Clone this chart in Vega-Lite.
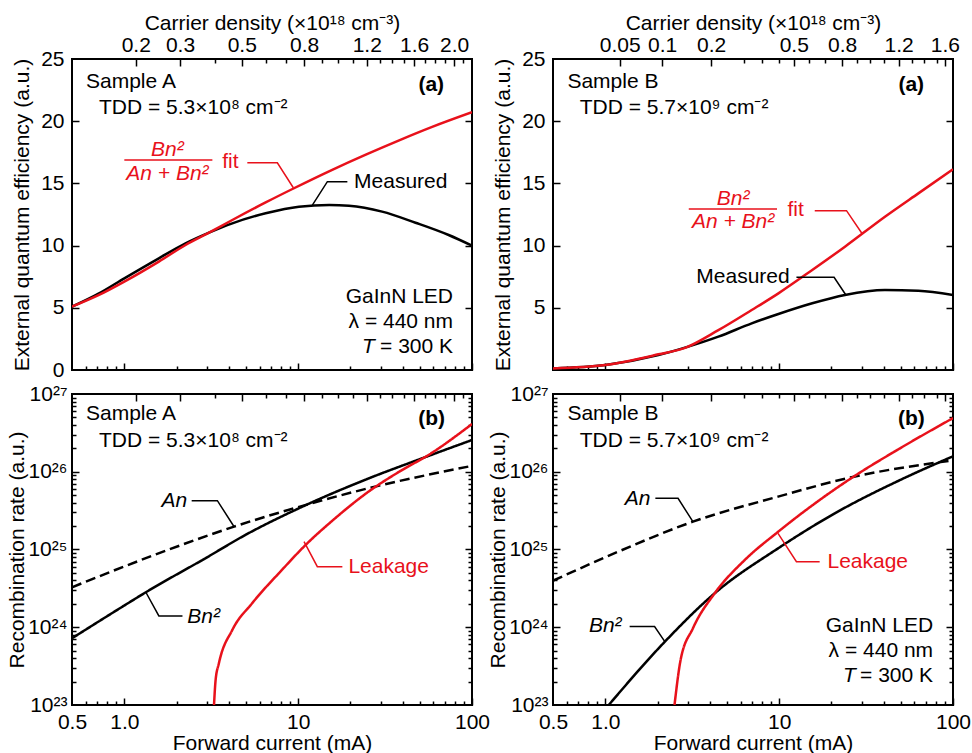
{
  "$schema": "https://vega.github.io/schema/vega-lite/v6.json",
  "padding": {"left": 5, "top": 11, "right": 5, "bottom": 0},
  "config": {
    "font": "Liberation Sans",
    "view": {"stroke": "#000", "strokeWidth": 2},
    "axis": {"grid": false, "domain": false, "tickColor": "#000", "tickWidth": 1.5, "labelFontSize": 21, "titleFontSize": 21, "labelColor": "#000", "titleColor": "#000", "titleFontWeight": "normal", "labelOverlap": false, "labelFlush": false, "labelBound": false, "labelFont": "Liberation Sans", "titleFont": "Liberation Sans"},
    "text": {"fontSize": 21, "font": "Liberation Sans", "baseline": "alphabetic"}
  },
  "datasets": {
    "eqeA": [
      {"I":0.5,"v":5.09,"s":"Measured"},{"I":0.715,"v":6.16,"s":"Measured"},{"I":1.0,"v":7.37,"s":"Measured"},{"I":1.58,"v":8.98,"s":"Measured"},{"I":2.25,"v":10.18,"s":"Measured"},{"I":3.07,"v":11.04,"s":"Measured"},{"I":4.18,"v":11.79,"s":"Measured"},{"I":6.5,"v":12.6,"s":"Measured"},{"I":10.1,"v":13.13,"s":"Measured"},{"I":15.1,"v":13.26,"s":"Measured"},{"I":19.6,"v":13.2,"s":"Measured"},{"I":30.4,"v":12.73,"s":"Measured"},{"I":47.3,"v":11.84,"s":"Measured"},{"I":73.4,"v":10.85,"s":"Measured"},{"I":100,"v":9.99,"s":"Measured"},
      {"I":0.5,"v":5.09,"s":"Fit"},{"I":0.715,"v":6.03,"s":"Fit"},{"I":1.0,"v":7.1,"s":"Fit"},{"I":1.58,"v":8.71,"s":"Fit"},{"I":2.25,"v":10.05,"s":"Fit"},{"I":3.07,"v":11.04,"s":"Fit"},{"I":4.18,"v":12.06,"s":"Fit"},{"I":6.5,"v":13.47,"s":"Fit"},{"I":9.27,"v":14.55,"s":"Fit"},{"I":15.7,"v":16.09,"s":"Fit"},{"I":24.5,"v":17.31,"s":"Fit"},{"I":38.1,"v":18.46,"s":"Fit"},{"I":59.0,"v":19.54,"s":"Fit"},{"I":100,"v":20.72,"s":"Fit"}
    ],
    "eqeB": [
      {"I":0.5,"v":0.13,"s":"Measured"},{"I":1.0,"v":0.4,"s":"Measured"},{"I":2.02,"v":1.2,"s":"Measured"},{"I":3.0,"v":1.88,"s":"Measured"},{"I":4.47,"v":2.68,"s":"Measured"},{"I":6.95,"v":3.75,"s":"Measured"},{"I":9.9,"v":4.5,"s":"Measured"},{"I":15.5,"v":5.36,"s":"Measured"},{"I":23.9,"v":6.03,"s":"Measured"},{"I":40.6,"v":6.43,"s":"Measured"},{"I":63.2,"v":6.38,"s":"Measured"},{"I":100,"v":6.03,"s":"Measured"},
      {"I":0.5,"v":0.13,"s":"Fit"},{"I":1.0,"v":0.4,"s":"Fit"},{"I":2.02,"v":1.26,"s":"Fit"},{"I":2.9,"v":1.8,"s":"Fit"},{"I":4.47,"v":3.2,"s":"Fit"},{"I":6.95,"v":4.82,"s":"Fit"},{"I":9.9,"v":6.16,"s":"Fit"},{"I":15.5,"v":8.04,"s":"Fit"},{"I":23.9,"v":9.91,"s":"Fit"},{"I":40.6,"v":12.32,"s":"Fit"},{"I":63.2,"v":14.2,"s":"Fit"},{"I":100,"v":16.13,"s":"Fit"}
    ],
    "recA": [
      {"I":0.5,"v":3.27e24,"s":"An"},{"I":1.45,"v":8.32e24,"s":"An"},{"I":4.28,"v":1.97e25,"s":"An"},{"I":10.35,"v":3.59e25,"s":"An"},{"I":25.6,"v":6.17e25,"s":"An"},{"I":100,"v":1.19e26,"s":"An"},
      {"I":0.5,"v":7.21e23,"s":"Bn2"},{"I":1.0,"v":1.905e24,"s":"Bn2"},{"I":1.33,"v":2.82e24,"s":"Bn2"},{"I":2.94,"v":7.76e24,"s":"Bn2"},{"I":5.0,"v":1.55e25,"s":"Bn2"},{"I":10.1,"v":3.39e25,"s":"Bn2"},{"I":24.5,"v":7.94e25,"s":"Bn2"},{"I":54.2,"v":1.55e26,"s":"Bn2"},{"I":100,"v":2.56e26,"s":"Bn2"},
      {"I":3.28,"v":1.0e23,"s":"Leakage"},{"I":3.35,"v":2.09e23,"s":"Leakage"},{"I":3.5,"v":3.44e23,"s":"Leakage"},{"I":4.18,"v":9.23e23,"s":"Leakage"},{"I":5.43,"v":2.03e24,"s":"Leakage"},{"I":8.06,"v":5.45e24,"s":"Leakage"},{"I":11.06,"v":1.15e25,"s":"Leakage"},{"I":15.7,"v":2.34e25,"s":"Leakage"},{"I":25.6,"v":5.62e25,"s":"Leakage"},{"I":38.1,"v":1.0e26,"s":"Leakage"},{"I":56.6,"v":1.66e26,"s":"Leakage"},{"I":100,"v":4.11e26,"s":"Leakage"}
    ],
    "recB": [
      {"I":0.5,"v":3.97e24,"s":"An"},{"I":1.18,"v":9.33e24,"s":"An"},{"I":3.19,"v":2.28e25,"s":"An"},{"I":9.86,"v":4.79e25,"s":"An"},{"I":26.1,"v":8.51e25,"s":"An"},{"I":100,"v":1.4e26,"s":"An"},
      {"I":1.046,"v":1.0e23,"s":"Bn2"},{"I":2.2,"v":6.52e23,"s":"Bn2"},{"I":4.26,"v":2.74e24,"s":"Bn2"},{"I":9.86,"v":1.035e25,"s":"Bn2"},{"I":20.9,"v":2.92e25,"s":"Bn2"},{"I":50.3,"v":7.94e25,"s":"Bn2"},{"I":100,"v":1.58e26,"s":"Bn2"},
      {"I":2.5,"v":1.0e23,"s":"Leakage"},{"I":2.71,"v":3.79e23,"s":"Leakage"},{"I":3.19,"v":9.68e23,"s":"Leakage"},{"I":4.26,"v":2.74e24,"s":"Leakage"},{"I":6.34,"v":7.33e24,"s":"Leakage"},{"I":9.86,"v":1.69e25,"s":"Leakage"},{"I":16.7,"v":4.17e25,"s":"Leakage"},{"I":26.1,"v":8.32e25,"s":"Leakage"},{"I":50.3,"v":2.04e26,"s":"Leakage"},{"I":100,"v":4.9e26,"s":"Leakage"}
    ]
  },
  "columns": 2,
  "spacing": {"row": 24, "column": 81},
  "bounds": "flush",
  "concat": [
        {
          "width": 400, "height": 311,
          "resolve": {"axis": {"x": "independent", "y": "independent"}},
          "layer": [
            {
              "data": {"name": "eqeA"},
              "mark": {"type": "line", "strokeWidth": 2.5, "clip": true, "interpolate": "monotone"},
              "encoding": {
                "x": {"field": "I", "type": "quantitative", "scale": {"type": "log", "domain": [0.5, 100], "nice": false}, "axis": {"orient": "bottom", "values": [0.6,0.7,0.8,0.9,2,3,4,5,6,7,8,9,20,30,40,50,60,70,80,90], "tickSize": -4, "labels": false, "title": null}},
                "y": {"field": "v", "type": "quantitative", "scale": {"domain": [0, 25], "nice": false, "zero": false}, "axis": {"orient": "left", "values": [0,5,10,15,20,25], "ticks": false, "labelPadding": 8, "title": "External quantum efficiency (a.u.)", "titlePadding": 8}},
                "color": {"field": "s", "type": "nominal", "scale": {"domain": ["Measured", "Fit", "An", "Bn2", "Leakage"], "range": ["#000000", "#e8111b", "#000000", "#000000", "#e8111b"]}, "legend": null}
              }
            },
            {
              "data": {"name": "eqeA"},
              "mark": {"type": "point", "opacity": 0},
              "encoding": {
                "x": {"field": "I", "type": "quantitative", "scale": {"type": "log", "domain": [0.5, 100], "nice": false}, "axis": {"orient": "bottom", "values": [1,10,100], "tickSize": -7, "labels": false, "title": null}},
                "y": {"field": "v", "type": "quantitative", "scale": {"domain": [0, 25], "nice": false, "zero": false}, "axis": {"orient": "left", "values": [5,10,15,20], "tickSize": -7, "labels": false, "title": null}}
              }
            },
            {
              "data": {"name": "eqeA"},
              "mark": {"type": "point", "opacity": 0},
              "encoding": {
                "x": {"field": "I", "type": "quantitative", "scale": {"type": "log", "domain": [0.5, 100], "nice": false}, "axis": {"orient": "top", "values": [1.163,2.091,4.735,10.81,24.8,46.42,78.9], "ticks": false, "labelPadding": 4, "labelExpr": "datum.value < 1.5 ? '0.2' : datum.value < 3 ? '0.3' : datum.value < 7 ? '0.5' : datum.value < 15 ? '0.8' : datum.value < 35 ? '1.2' : datum.value < 60 ? '1.6' : '2.0'", "title": "Carrier density (×10¹⁸ cm⁻³)", "titlePadding": 1}},
                "y": {"field": "v", "type": "quantitative", "scale": {"domain": [0, 25], "nice": false, "zero": false}, "axis": {"orient": "right", "values": [5,10,15,20], "tickSize": -7, "labels": false, "title": null}}
              }
            },
            {
              "data": {"name": "eqeA"},
              "mark": {"type": "point", "opacity": 0},
              "encoding": {
                "x": {"field": "I", "type": "quantitative", "scale": {"type": "log", "domain": [0.5, 100], "nice": false}, "axis": {"orient": "top", "values": [1.163,2.091,4.735,10.81,24.8,46.42,78.9], "tickSize": -7, "labels": false, "title": null}},
                "y": {"field": "v", "type": "quantitative", "axis": null}
              }
            },
            {
              "data": {"name": "eqeA"},
              "mark": {"type": "point", "opacity": 0},
              "encoding": {
                "x": {"field": "I", "type": "quantitative", "scale": {"type": "log", "domain": [0.5, 100], "nice": false}, "axis": {"orient": "top", "values": [3.31,6.52,8.55,13.76,17.06,20.74,29.5,34.7,40.4,53.6,61.4,69.9,89.1], "tickSize": -4, "labels": false, "title": null}},
                "y": {"field": "v", "type": "quantitative", "axis": null}
              }
            },
            {
              "data": {"values": [{"g":"m","I":19.19,"v":15.14},{"g":"m","I":14.72,"v":15.14},{"g":"m","I":12.07,"v":13.26}]},
              "mark": {"type": "line", "strokeWidth": 1.5, "color": "#000000"},
              "encoding": {"x": {"field": "I", "type": "quantitative", "axis": null}, "y": {"field": "v", "type": "quantitative", "axis": null}, "detail": {"field": "g"}}
            },
            {
              "data": {"values": [{"g":"f","I":5.10,"v":16.66},{"g":"f","I":7.59,"v":16.66},{"g":"f","I":9.38,"v":14.65},{"g":"bar","I":1.0,"v":16.88},{"g":"bar","I":3.21,"v":16.88}]},
              "mark": {"type": "line", "strokeWidth": 1.5, "color": "#e8111b"},
              "encoding": {"x": {"field": "I", "type": "quantitative", "axis": null}, "y": {"field": "v", "type": "quantitative", "axis": null}, "detail": {"field": "g"}}
            },
            {
              "data": {"values": [{"t":"Sample A","I":0.602,"v":22.67},{"t":"TDD = 5.3×10⁸  cm⁻²","I":0.715,"v":20.58},{"t":"Measured","I":20.97,"v":14.6}]},
              "mark": {"type": "text", "align": "left"},
              "encoding": {"x": {"field": "I", "type": "quantitative", "axis": null}, "y": {"field": "v", "type": "quantitative", "axis": null}, "text": {"field": "t"}}
            },
            {
              "data": {"values": [{"t":"GaInN LED","I":77.8,"v":5.36},{"t":"λ = 440 nm","I":77.8,"v":3.35},{"t":"= 300 K","I":77.8,"v":1.34}]},
              "mark": {"type": "text", "align": "right"},
              "encoding": {"x": {"field": "I", "type": "quantitative", "axis": null}, "y": {"field": "v", "type": "quantitative", "axis": null}, "text": {"field": "t"}}
            },
            {
              "data": {"values": [{"t":"T","I":23.3,"v":1.34}]},
              "mark": {"type": "text", "align": "left", "fontStyle": "italic"},
              "encoding": {"x": {"field": "I", "type": "quantitative", "axis": null}, "y": {"field": "v", "type": "quantitative", "axis": null}, "text": {"field": "t"}}
            },
            {
              "data": {"values": [{"t":"(a)","I":69.1,"v":22.45}]},
              "mark": {"type": "text", "align": "right", "fontWeight": "bold"},
              "encoding": {"x": {"field": "I", "type": "quantitative", "axis": null}, "y": {"field": "v", "type": "quantitative", "axis": null}, "text": {"field": "t"}}
            },
            {
              "data": {"values": [{"t":"Bn²","I":1.77,"v":17.2},{"t":"An + Bn²","I":1.77,"v":15.27}]},
              "mark": {"type": "text", "align": "center", "fontStyle": "italic", "color": "#e8111b"},
              "encoding": {"x": {"field": "I", "type": "quantitative", "axis": null}, "y": {"field": "v", "type": "quantitative", "axis": null}, "text": {"field": "t"}}
            },
            {
              "data": {"values": [{"t":"fit","I":3.66,"v":16.27}]},
              "mark": {"type": "text", "align": "left", "color": "#e8111b"},
              "encoding": {"x": {"field": "I", "type": "quantitative", "axis": null}, "y": {"field": "v", "type": "quantitative", "axis": null}, "text": {"field": "t"}}
            }
          ]
        },
        {
          "width": 400, "height": 311,
          "resolve": {"axis": {"x": "independent", "y": "independent"}},
          "layer": [
            {
              "data": {"name": "eqeB"},
              "mark": {"type": "line", "strokeWidth": 2.5, "clip": true, "interpolate": "monotone"},
              "encoding": {
                "x": {"field": "I", "type": "quantitative", "scale": {"type": "log", "domain": [0.5, 100], "nice": false}, "axis": {"orient": "bottom", "values": [0.6,0.7,0.8,0.9,2,3,4,5,6,7,8,9,20,30,40,50,60,70,80,90], "tickSize": -4, "labels": false, "title": null}},
                "y": {"field": "v", "type": "quantitative", "scale": {"domain": [0, 25], "nice": false, "zero": false}, "axis": {"orient": "left", "values": [5,10,15,20,25], "ticks": false, "labelPadding": 8, "title": "External quantum efficiency (a.u.)", "titlePadding": 8}},
                "color": {"field": "s", "type": "nominal", "scale": {"domain": ["Measured", "Fit", "An", "Bn2", "Leakage"], "range": ["#000000", "#e8111b", "#000000", "#000000", "#e8111b"]}, "legend": null}
              }
            },
            {
              "data": {"name": "eqeB"},
              "mark": {"type": "point", "opacity": 0},
              "encoding": {
                "x": {"field": "I", "type": "quantitative", "scale": {"type": "log", "domain": [0.5, 100], "nice": false}, "axis": {"orient": "bottom", "values": [1,10,100], "tickSize": -7, "labels": false, "title": null}},
                "y": {"field": "v", "type": "quantitative", "scale": {"domain": [0, 25], "nice": false, "zero": false}, "axis": {"orient": "left", "values": [5,10,15,20], "tickSize": -7, "labels": false, "title": null}}
              }
            },
            {
              "data": {"name": "eqeB"},
              "mark": {"type": "point", "opacity": 0},
              "encoding": {
                "x": {"field": "I", "type": "quantitative", "scale": {"type": "log", "domain": [0.5, 100], "nice": false}, "axis": {"orient": "top", "values": [1.21,2.12,4.06,12.13,23.0,48.7,89.7], "ticks": false, "labelPadding": 4, "labelExpr": "datum.value < 1.6 ? '0.05' : datum.value < 3 ? '0.1' : datum.value < 7 ? '0.2' : datum.value < 17 ? '0.5' : datum.value < 35 ? '0.8' : datum.value < 70 ? '1.2' : '1.6'", "title": "Carrier density (×10¹⁸ cm⁻³)", "titlePadding": 1}},
                "y": {"field": "v", "type": "quantitative", "scale": {"domain": [0, 25], "nice": false, "zero": false}, "axis": {"orient": "right", "values": [5,10,15,20], "tickSize": -7, "labels": false, "title": null}}
              }
            },
            {
              "data": {"name": "eqeB"},
              "mark": {"type": "point", "opacity": 0},
              "encoding": {
                "x": {"field": "I", "type": "quantitative", "scale": {"type": "log", "domain": [0.5, 100], "nice": false}, "axis": {"orient": "top", "values": [1.21,2.12,4.06,12.13,23.0,48.7,89.7], "tickSize": -7, "labels": false, "title": null}},
                "y": {"field": "v", "type": "quantitative", "axis": null}
              }
            },
            {
              "data": {"name": "eqeB"},
              "mark": {"type": "point", "opacity": 0},
              "encoding": {
                "x": {"field": "I", "type": "quantitative", "scale": {"type": "log", "domain": [0.5, 100], "nice": false}, "axis": {"orient": "top", "values": [6.26,7.97,9.95,14.8,18.45,28.05,33.5,40.0,58.2,67.9,80.9], "tickSize": -4, "labels": false, "title": null}},
                "y": {"field": "v", "type": "quantitative", "axis": null}
              }
            },
            {
              "data": {"values": [{"g":"m","I":12.57,"v":7.45},{"g":"m","I":20.7,"v":7.45},{"g":"m","I":24.2,"v":6.03}]},
              "mark": {"type": "line", "strokeWidth": 1.5, "color": "#000000"},
              "encoding": {"x": {"field": "I", "type": "quantitative", "axis": null}, "y": {"field": "v", "type": "quantitative", "axis": null}, "detail": {"field": "g"}}
            },
            {
              "data": {"values": [{"g":"f","I":16.02,"v":12.81},{"g":"f","I":24.4,"v":12.81},{"g":"f","I":30.1,"v":10.93},{"g":"bar","I":3.02,"v":12.94},{"g":"bar","I":9.72,"v":12.94}]},
              "mark": {"type": "line", "strokeWidth": 1.5, "color": "#e8111b"},
              "encoding": {"x": {"field": "I", "type": "quantitative", "axis": null}, "y": {"field": "v", "type": "quantitative", "axis": null}, "detail": {"field": "g"}}
            },
            {
              "data": {"values": [{"t":"Sample B","I":0.605,"v":22.64},{"t":"TDD = 5.7×10⁹ cm⁻²","I":0.712,"v":20.58}]},
              "mark": {"type": "text", "align": "left"},
              "encoding": {"x": {"field": "I", "type": "quantitative", "axis": null}, "y": {"field": "v", "type": "quantitative", "axis": null}, "text": {"field": "t"}}
            },
            {
              "data": {"values": [{"t":"Measured","I":11.5,"v":6.97}]},
              "mark": {"type": "text", "align": "right"},
              "encoding": {"x": {"field": "I", "type": "quantitative", "axis": null}, "y": {"field": "v", "type": "quantitative", "axis": null}, "text": {"field": "t"}}
            },
            {
              "data": {"values": [{"t":"(a)","I":68.2,"v":22.45}]},
              "mark": {"type": "text", "align": "right", "fontWeight": "bold"},
              "encoding": {"x": {"field": "I", "type": "quantitative", "axis": null}, "y": {"field": "v", "type": "quantitative", "axis": null}, "text": {"field": "t"}}
            },
            {
              "data": {"values": [{"t":"Bn²","I":5.43,"v":13.26},{"t":"An + Bn²","I":5.43,"v":11.39}]},
              "mark": {"type": "text", "align": "center", "fontStyle": "italic", "color": "#e8111b"},
              "encoding": {"x": {"field": "I", "type": "quantitative", "axis": null}, "y": {"field": "v", "type": "quantitative", "axis": null}, "text": {"field": "t"}}
            },
            {
              "data": {"values": [{"t":"fit","I":11.16,"v":12.38}]},
              "mark": {"type": "text", "align": "left", "color": "#e8111b"},
              "encoding": {"x": {"field": "I", "type": "quantitative", "axis": null}, "y": {"field": "v", "type": "quantitative", "axis": null}, "text": {"field": "t"}}
            }
          ]
        },
        {
          "width": 400, "height": 311,
          "resolve": {"axis": {"x": "independent", "y": "independent"}},
          "layer": [
            {
              "data": {"name": "recA"},
              "mark": {"type": "line", "strokeWidth": 2.5, "clip": true, "interpolate": "monotone"},
              "encoding": {
                "x": {"field": "I", "type": "quantitative", "scale": {"type": "log", "domain": [0.5, 100], "nice": false}, "axis": {"orient": "bottom", "values": [0.5,1,10,100], "ticks": false, "labelPadding": 6, "labelExpr": "datum.value < 0.75 ? '0.5' : datum.value < 5 ? '1.0' : datum.value < 50 ? '10' : '100'", "title": "Forward current (mA)", "titlePadding": 0}},
                "y": {"field": "v", "type": "quantitative", "scale": {"type": "log", "domain": [1e23, 1e27], "nice": false}, "axis": {"orient": "left", "values": [1e23,1e24,1e25,1e26,1e27], "ticks": false, "labelPadding": 5, "labelExpr": "'10' + (datum.value < 5e23 ? '²³' : datum.value < 5e24 ? '²⁴' : datum.value < 5e25 ? '²⁵' : datum.value < 5e26 ? '²⁶' : '²⁷')", "title": "Recombination rate (a.u.)", "titlePadding": 0}},
                "color": {"field": "s", "type": "nominal", "scale": {"domain": ["Measured", "Fit", "An", "Bn2", "Leakage"], "range": ["#000000", "#e8111b", "#000000", "#000000", "#e8111b"]}, "legend": null},
                "strokeDash": {"field": "s", "type": "nominal", "scale": {"domain": ["An", "Bn2", "Leakage"], "range": [[10,5],[1,0],[1,0]]}, "legend": null}
              }
            },
            {
              "data": {"name": "recA"},
              "mark": {"type": "point", "opacity": 0},
              "encoding": {
                "x": {"field": "I", "type": "quantitative", "scale": {"type": "log", "domain": [0.5, 100], "nice": false}, "axis": {"orient": "bottom", "values": [1,10,100], "tickSize": -7, "labels": false, "title": null}},
                "y": {"field": "v", "type": "quantitative", "scale": {"type": "log", "domain": [1e23, 1e27], "nice": false}, "axis": {"orient": "left", "values": [1e24,1e25,1e26], "tickSize": -7, "labels": false, "title": null}}
              }
            },
            {
              "data": {"name": "recA"},
              "mark": {"type": "point", "opacity": 0},
              "encoding": {
                "x": {"field": "I", "type": "quantitative", "scale": {"type": "log", "domain": [0.5, 100], "nice": false}, "axis": {"orient": "bottom", "values": [0.6,0.7,0.8,0.9,2,3,4,5,6,7,8,9,20,30,40,50,60,70,80,90], "tickSize": -4, "labels": false, "title": null}},
                "y": {"field": "v", "type": "quantitative", "scale": {"type": "log", "domain": [1e23, 1e27], "nice": false}, "axis": {"orient": "right", "values": [1e24,1e25,1e26], "tickSize": -7, "labels": false, "title": null}}
              }
            },
            {
              "data": {"name": "recA"},
              "mark": {"type": "point", "opacity": 0},
              "encoding": {
                "x": {"field": "I", "type": "quantitative", "scale": {"type": "log", "domain": [0.5, 100], "nice": false}, "axis": {"orient": "top", "values": [1.163,2.091,4.735,10.81,24.8,46.42,78.9], "tickSize": -7, "labels": false, "title": null}},
                "y": {"field": "v", "type": "quantitative", "scale": {"type": "log", "domain": [1e23, 1e27], "nice": false}, "axis": {"orient": "left", "values": [2e23,3e23,4e23,5e23,6e23,7e23,8e23,9e23,2e24,3e24,4e24,5e24,6e24,7e24,8e24,9e24,2e25,3e25,4e25,5e25,6e25,7e25,8e25,9e25,2e26,3e26,4e26,5e26,6e26,7e26,8e26,9e26], "tickSize": -4, "labels": false, "title": null}}
              }
            },
            {
              "data": {"name": "recA"},
              "mark": {"type": "point", "opacity": 0},
              "encoding": {
                "x": {"field": "I", "type": "quantitative", "scale": {"type": "log", "domain": [0.5, 100], "nice": false}, "axis": {"orient": "top", "values": [3.31,6.52,8.55,13.76,17.06,20.74,29.5,34.7,40.4,53.6,61.4,69.9,89.1], "tickSize": -4, "labels": false, "title": null}},
                "y": {"field": "v", "type": "quantitative", "scale": {"type": "log", "domain": [1e23, 1e27], "nice": false}, "axis": {"orient": "right", "values": [2e23,3e23,4e23,5e23,6e23,7e23,8e23,9e23,2e24,3e24,4e24,5e24,6e24,7e24,8e24,9e24,2e25,3e25,4e25,5e25,6e25,7e25,8e25,9e25,2e26,3e26,4e26,5e26,6e26,7e26,8e26,9e26], "tickSize": -4, "labels": false, "title": null}}
              }
            },
            {
              "data": {"values": [{"g":"an","I":2.44,"v":4.25e25},{"g":"an","I":3.43,"v":4.25e25},{"g":"an","I":4.28,"v":1.96e25},{"g":"bn","I":2.16,"v":1.40e24},{"g":"bn","I":1.58,"v":1.40e24},{"g":"bn","I":1.33,"v":2.82e24}]},
              "mark": {"type": "line", "strokeWidth": 1.5, "color": "#000000"},
              "encoding": {"x": {"field": "I", "type": "quantitative", "axis": null}, "y": {"field": "v", "type": "quantitative", "axis": null}, "detail": {"field": "g"}}
            },
            {
              "data": {"values": [{"g":"l","I":17.96,"v":6.01e24},{"g":"l","I":12.89,"v":6.01e24},{"g":"l","I":10.81,"v":1.26e25}]},
              "mark": {"type": "line", "strokeWidth": 1.5, "color": "#e8111b"},
              "encoding": {"x": {"field": "I", "type": "quantitative", "axis": null}, "y": {"field": "v", "type": "quantitative", "axis": null}, "detail": {"field": "g"}}
            },
            {
              "data": {"values": [{"t":"Sample A","I":0.602,"v":4.63e26},{"t":"TDD = 5.3×10⁸ cm⁻²","I":0.715,"v":2.06e26}]},
              "mark": {"type": "text", "align": "left"},
              "encoding": {"x": {"field": "I", "type": "quantitative", "axis": null}, "y": {"field": "v", "type": "quantitative", "axis": null}, "text": {"field": "t"}}
            },
            {
              "data": {"values": [{"t":"Bn²","I":2.30,"v":1.12e24}]},
              "mark": {"type": "text", "align": "left", "fontStyle": "italic"},
              "encoding": {"x": {"field": "I", "type": "quantitative", "axis": null}, "y": {"field": "v", "type": "quantitative", "axis": null}, "text": {"field": "t"}}
            },
            {
              "data": {"values": [{"t":"An","I":2.30,"v":3.55e25}]},
              "mark": {"type": "text", "align": "right", "fontStyle": "italic"},
              "encoding": {"x": {"field": "I", "type": "quantitative", "axis": null}, "y": {"field": "v", "type": "quantitative", "axis": null}, "text": {"field": "t"}}
            },
            {
              "data": {"values": [{"t":"(b)","I":70.0,"v":3.98e26}]},
              "mark": {"type": "text", "align": "right", "fontWeight": "bold"},
              "encoding": {"x": {"field": "I", "type": "quantitative", "axis": null}, "y": {"field": "v", "type": "quantitative", "axis": null}, "text": {"field": "t"}}
            },
            {
              "data": {"values": [{"t":"Leakage","I":19.45,"v":4.94e24}]},
              "mark": {"type": "text", "align": "left", "color": "#e8111b"},
              "encoding": {"x": {"field": "I", "type": "quantitative", "axis": null}, "y": {"field": "v", "type": "quantitative", "axis": null}, "text": {"field": "t"}}
            }
          ]
        },
        {
          "width": 400, "height": 311,
          "resolve": {"axis": {"x": "independent", "y": "independent"}},
          "layer": [
            {
              "data": {"name": "recB"},
              "mark": {"type": "line", "strokeWidth": 2.5, "clip": true, "interpolate": "monotone"},
              "encoding": {
                "x": {"field": "I", "type": "quantitative", "scale": {"type": "log", "domain": [0.5, 100], "nice": false}, "axis": {"orient": "bottom", "values": [0.5,1,10,100], "ticks": false, "labelPadding": 6, "labelExpr": "datum.value < 0.75 ? '0.5' : datum.value < 5 ? '1.0' : datum.value < 50 ? '10' : '100'", "title": "Forward current (mA)", "titlePadding": 0}},
                "y": {"field": "v", "type": "quantitative", "scale": {"type": "log", "domain": [1e23, 1e27], "nice": false}, "axis": {"orient": "left", "values": [1e23,1e24,1e25,1e26,1e27], "ticks": false, "labelPadding": 5, "labelExpr": "'10' + (datum.value < 5e23 ? '²³' : datum.value < 5e24 ? '²⁴' : datum.value < 5e25 ? '²⁵' : datum.value < 5e26 ? '²⁶' : '²⁷')", "title": "Recombination rate (a.u.)", "titlePadding": 0}},
                "color": {"field": "s", "type": "nominal", "scale": {"domain": ["Measured", "Fit", "An", "Bn2", "Leakage"], "range": ["#000000", "#e8111b", "#000000", "#000000", "#e8111b"]}, "legend": null},
                "strokeDash": {"field": "s", "type": "nominal", "scale": {"domain": ["An", "Bn2", "Leakage"], "range": [[10,5],[1,0],[1,0]]}, "legend": null}
              }
            },
            {
              "data": {"name": "recB"},
              "mark": {"type": "point", "opacity": 0},
              "encoding": {
                "x": {"field": "I", "type": "quantitative", "scale": {"type": "log", "domain": [0.5, 100], "nice": false}, "axis": {"orient": "bottom", "values": [1,10,100], "tickSize": -7, "labels": false, "title": null}},
                "y": {"field": "v", "type": "quantitative", "scale": {"type": "log", "domain": [1e23, 1e27], "nice": false}, "axis": {"orient": "left", "values": [1e24,1e25,1e26], "tickSize": -7, "labels": false, "title": null}}
              }
            },
            {
              "data": {"name": "recB"},
              "mark": {"type": "point", "opacity": 0},
              "encoding": {
                "x": {"field": "I", "type": "quantitative", "scale": {"type": "log", "domain": [0.5, 100], "nice": false}, "axis": {"orient": "bottom", "values": [0.6,0.7,0.8,0.9,2,3,4,5,6,7,8,9,20,30,40,50,60,70,80,90], "tickSize": -4, "labels": false, "title": null}},
                "y": {"field": "v", "type": "quantitative", "scale": {"type": "log", "domain": [1e23, 1e27], "nice": false}, "axis": {"orient": "right", "values": [1e24,1e25,1e26], "tickSize": -7, "labels": false, "title": null}}
              }
            },
            {
              "data": {"name": "recB"},
              "mark": {"type": "point", "opacity": 0},
              "encoding": {
                "x": {"field": "I", "type": "quantitative", "scale": {"type": "log", "domain": [0.5, 100], "nice": false}, "axis": {"orient": "top", "values": [1.21,2.12,4.06,12.13,23.0,48.7,89.7], "tickSize": -7, "labels": false, "title": null}},
                "y": {"field": "v", "type": "quantitative", "scale": {"type": "log", "domain": [1e23, 1e27], "nice": false}, "axis": {"orient": "left", "values": [2e23,3e23,4e23,5e23,6e23,7e23,8e23,9e23,2e24,3e24,4e24,5e24,6e24,7e24,8e24,9e24,2e25,3e25,4e25,5e25,6e25,7e25,8e25,9e25,2e26,3e26,4e26,5e26,6e26,7e26,8e26,9e26], "tickSize": -4, "labels": false, "title": null}}
              }
            },
            {
              "data": {"name": "recB"},
              "mark": {"type": "point", "opacity": 0},
              "encoding": {
                "x": {"field": "I", "type": "quantitative", "scale": {"type": "log", "domain": [0.5, 100], "nice": false}, "axis": {"orient": "top", "values": [6.26,7.97,9.95,14.8,18.45,28.05,33.5,40.0,58.2,67.9,80.9], "tickSize": -4, "labels": false, "title": null}},
                "y": {"field": "v", "type": "quantitative", "scale": {"type": "log", "domain": [1e23, 1e27], "nice": false}, "axis": {"orient": "right", "values": [2e23,3e23,4e23,5e23,6e23,7e23,8e23,9e23,2e24,3e24,4e24,5e24,6e24,7e24,8e24,9e24,2e25,3e25,4e25,5e25,6e25,7e25,8e25,9e25,2e26,3e26,4e26,5e26,6e26,7e26,8e26,9e26], "tickSize": -4, "labels": false, "title": null}}
              }
            },
            {
              "data": {"values": [{"g":"an","I":1.94,"v":4.55e25},{"g":"an","I":2.62,"v":4.55e25},{"g":"an","I":3.19,"v":2.28e25},{"g":"bn","I":1.38,"v":1.02e24},{"g":"bn","I":1.92,"v":1.02e24},{"g":"bn","I":2.20,"v":6.52e23}]},
              "mark": {"type": "line", "strokeWidth": 1.5, "color": "#000000"},
              "encoding": {"x": {"field": "I", "type": "quantitative", "axis": null}, "y": {"field": "v", "type": "quantitative", "axis": null}, "detail": {"field": "g"}}
            },
            {
              "data": {"values": [{"g":"l","I":17.1,"v":6.97e24},{"g":"l","I":12.57,"v":6.97e24},{"g":"l","I":9.85,"v":1.61e25}]},
              "mark": {"type": "line", "strokeWidth": 1.5, "color": "#e8111b"},
              "encoding": {"x": {"field": "I", "type": "quantitative", "axis": null}, "y": {"field": "v", "type": "quantitative", "axis": null}, "detail": {"field": "g"}}
            },
            {
              "data": {"values": [{"t":"Sample B","I":0.605,"v":4.63e26},{"t":"TDD = 5.7×10⁹ cm⁻²","I":0.712,"v":2.06e26}]},
              "mark": {"type": "text", "align": "left"},
              "encoding": {"x": {"field": "I", "type": "quantitative", "axis": null}, "y": {"field": "v", "type": "quantitative", "axis": null}, "text": {"field": "t"}}
            },
            {
              "data": {"values": [{"t":"An","I":1.82,"v":3.73e25},{"t":"Bn²","I":1.24,"v":8.77e23}]},
              "mark": {"type": "text", "align": "right", "fontStyle": "italic"},
              "encoding": {"x": {"field": "I", "type": "quantitative", "axis": null}, "y": {"field": "v", "type": "quantitative", "axis": null}, "text": {"field": "t"}}
            },
            {
              "data": {"values": [{"t":"GaInN LED","I":76.8,"v":8.77e23},{"t":"λ = 440 nm","I":76.8,"v":4.18e23},{"t":"= 300 K","I":76.8,"v":2.0e23}]},
              "mark": {"type": "text", "align": "right"},
              "encoding": {"x": {"field": "I", "type": "quantitative", "axis": null}, "y": {"field": "v", "type": "quantitative", "axis": null}, "text": {"field": "t"}}
            },
            {
              "data": {"values": [{"t":"T","I":23.3,"v":2.0e23}]},
              "mark": {"type": "text", "align": "left", "fontStyle": "italic"},
              "encoding": {"x": {"field": "I", "type": "quantitative", "axis": null}, "y": {"field": "v", "type": "quantitative", "axis": null}, "text": {"field": "t"}}
            },
            {
              "data": {"values": [{"t":"(b)","I":68.8,"v":3.98e26}]},
              "mark": {"type": "text", "align": "right", "fontWeight": "bold"},
              "encoding": {"x": {"field": "I", "type": "quantitative", "axis": null}, "y": {"field": "v", "type": "quantitative", "axis": null}, "text": {"field": "t"}}
            },
            {
              "data": {"values": [{"t":"Leakage","I":18.96,"v":5.73e24}]},
              "mark": {"type": "text", "align": "left", "color": "#e8111b"},
              "encoding": {"x": {"field": "I", "type": "quantitative", "axis": null}, "y": {"field": "v", "type": "quantitative", "axis": null}, "text": {"field": "t"}}
            }
          ]
        }
  ]
}
